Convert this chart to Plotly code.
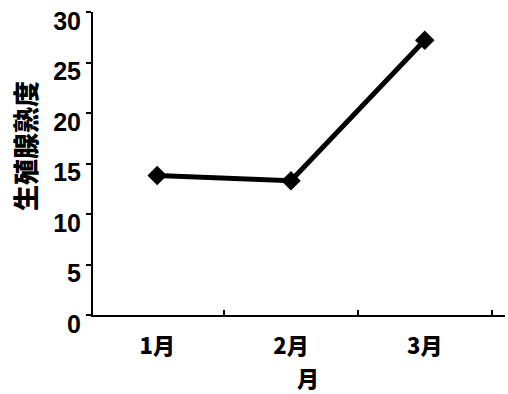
import plotly.graph_objects as go

months = ["1月", "2月", "3月"]
gonad_index = [13.8, 13.3, 27.2]
y_ticks = [0, 5, 10, 15, 20, 25, 30]
y_title = "生殖腺熟度"
x_title = "月"

FONT = "Liberation Sans, Noto Sans CJK JP, sans-serif"

fig = go.Figure()
fig.add_trace(go.Scatter(
    x=months, y=gonad_index, mode="lines+markers",
    line=dict(color="black", width=5),
    marker=dict(symbol="diamond", size=15, color="black"),
    showlegend=False,
))

fig.update_layout(
    width=508, height=394,
    margin=dict(l=93, r=3, t=12, b=79),
    paper_bgcolor="white", plot_bgcolor="white",
    font=dict(family=FONT, color="black"),
)
fig.update_xaxes(
    type="category", range=[-0.48, 2.6], automargin=False,
    showline=True, linecolor="black", linewidth=2,
    ticks="inside", ticklen=5, tickwidth=1.5, tickcolor="black",
    tickson="boundaries", showgrid=False, zeroline=False,
    ticklabelstandoff=11,
    tickfont=dict(size=22, family="Noto Sans CJK JP", weight=900),
)
fig.update_yaxes(
    range=[0, 30], tickvals=y_ticks, automargin=False,
    ticklabeloverflow="allow", ticklabelshift=9,
    showline=True, linecolor="black", linewidth=2,
    ticks="outside", ticklen=5, tickwidth=1.5, tickcolor="black",
    showgrid=False, zeroline=False,
    tickfont=dict(size=25, family="Liberation Sans", weight="bold"),
)
fig.add_annotation(
    text=y_title, textangle=-90, showarrow=False,
    xref="paper", yref="paper", x=-0.165, y=0.558,
    xanchor="center", yanchor="middle",
    font=dict(size=26, family="Noto Sans CJK JP", weight=900),
)
fig.add_annotation(
    text=x_title, showarrow=False, borderpad=0,
    xref="paper", yref="paper", x=0.522, y=-0.205,
    xanchor="center", yanchor="middle",
    font=dict(size=22, family="Noto Sans CJK JP", weight=900),
)

fig.write_html("out.html", config={"displayModeBar": False},
               post_script="document.body.style.margin='0px';")
